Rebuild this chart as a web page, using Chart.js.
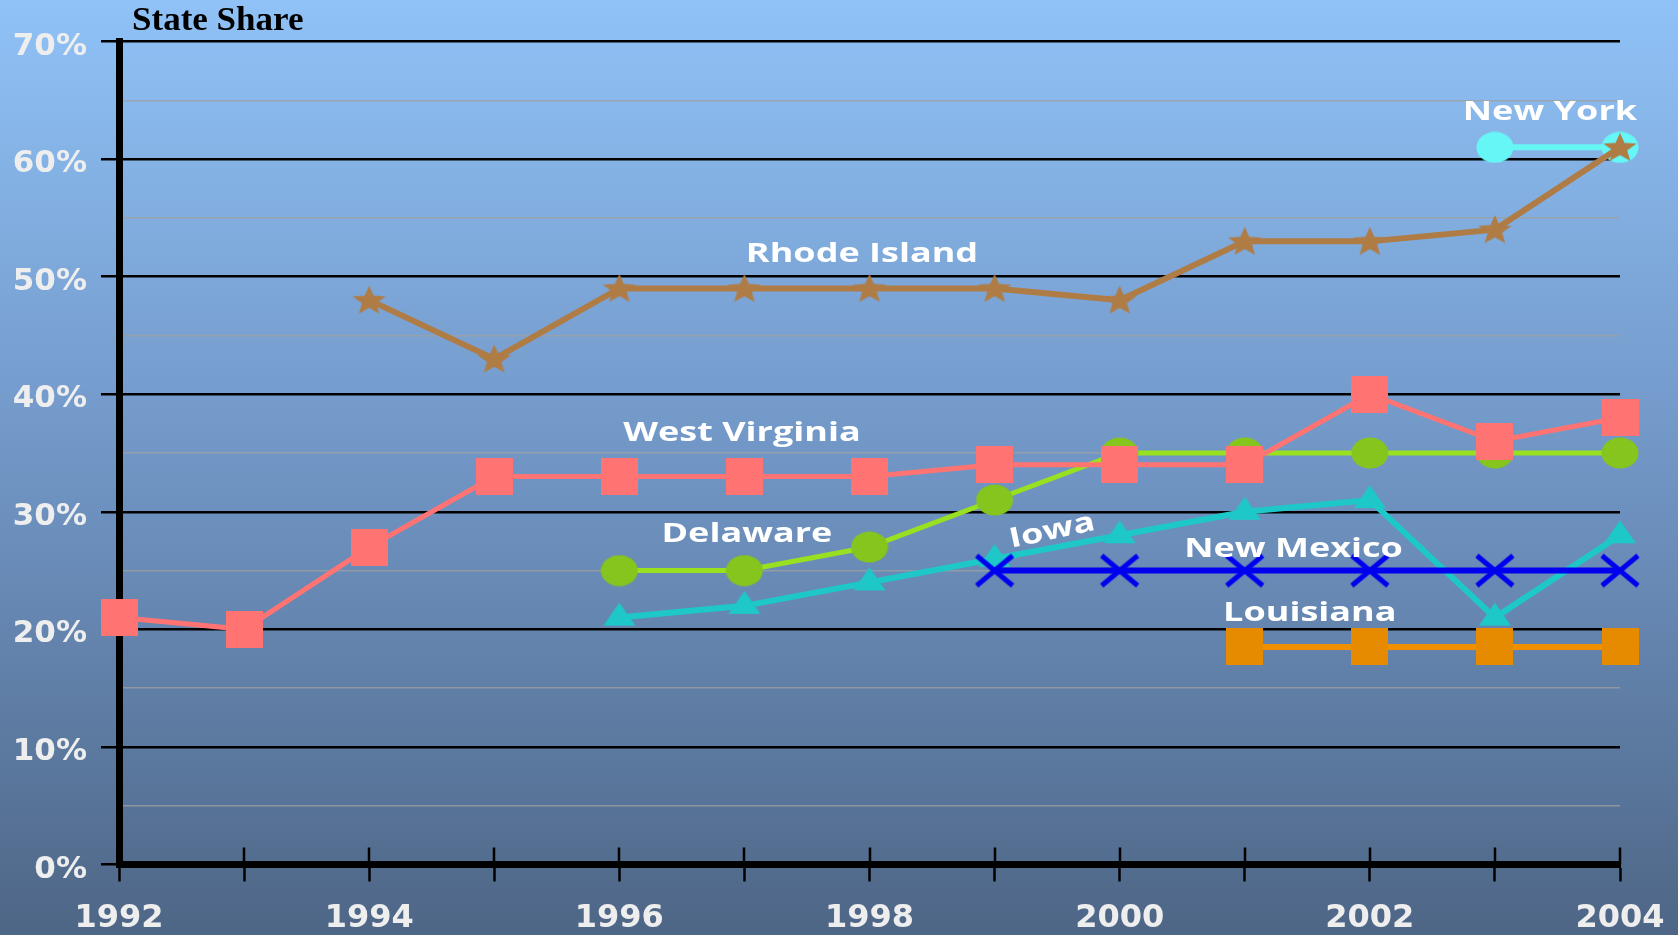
<!DOCTYPE html>
<html>
<head>
<meta charset="utf-8">
<title>State Share</title>
<script src="https://cdn.jsdelivr.net/npm/chart.js@4/dist/chart.umd.min.js"></script>
<style>
  html, body { margin: 0; padding: 0; background: #6f93c2; }
  #wrap { width: 1678px; height: 935px; }
</style>
</head>
<body>
<div id="wrap"><canvas id="chart" width="1678" height="935"></canvas></div>
<script>
// ---- data ----
const years = [1992, 1993, 1994, 1995, 1996, 1997, 1998, 1999, 2000, 2001, 2002, 2003, 2004];
const rhodeIsland  = [null, null, 48, 43, 49, 49, 49, 49, 48, 53, 53, 54, 61];
const newYork      = [null, null, null, null, null, null, null, null, null, null, null, 61, 61];
const westVirginia = [21, 20, 27, 33, 33, 33, 33, 34, 34, 34, 40, 36, 38];
const delaware     = [null, null, null, null, 25, 25, 27, 31, 35, 35, 35, 35, 35];
const iowa         = [null, null, null, null, 21, 22, 24, 26, 28, 30, 31, 21, 28];
const newMexico    = [null, null, null, null, null, null, null, 25, 25, 25, 25, 25, 25];
const louisiana    = [null, null, null, null, null, null, null, null, null, 18.5, 18.5, 18.5, 18.5];
const yTicks = [0, 10, 20, 30, 40, 50, 60, 70];
const xTickLabels = [1992, 1994, 1996, 1998, 2000, 2002, 2004];

// series name placement (year, percent, rotation in degrees)
const seriesLabels = [
  { text: 'New York',      x: 2003.44, y: 64.0, rot: 0 },
  { text: 'Rhode Island',  x: 1997.94, y: 51.9, rot: 0 },
  { text: 'West Virginia', x: 1996.98, y: 36.7, rot: 0 },
  { text: 'Delaware',      x: 1997.02, y: 28.1, rot: 0 },
  { text: 'Iowa',          x: 1999.46, y: 28.35, rot: -12 },
  { text: 'New Mexico',    x: 2001.39, y: 26.8, rot: 0 },
  { text: 'Louisiana',     x: 2001.52, y: 21.4, rot: 0 }
];

// ---- marker glyphs ----
function glyph(w, h, paint) {
  const c = document.createElement('canvas');
  c.width = w; c.height = h;
  paint(c.getContext('2d'), w, h);
  return c;
}
function ellipseMark(color) {
  return glyph(38, 32, (g) => {
    g.fillStyle = color; g.beginPath();
    g.ellipse(19, 16, 18.5, 15.5, 0, 0, Math.PI * 2); g.fill();
  });
}
function squareMark(color) {
  return glyph(37, 37, (g) => { g.fillStyle = color; g.fillRect(0, 0, 37, 37); });
}
function starMark(color) {
  return glyph(36, 36, (g) => {
    const cx = 18, cy = 19, ro = 17.5, ri = 7.6;
    g.fillStyle = color; g.beginPath();
    for (let i = 0; i < 10; i++) {
      const r = i % 2 === 0 ? ro : ri;
      const a = -Math.PI / 2 + i * Math.PI / 5;
      const px = cx + r * Math.cos(a), py = cy + r * Math.sin(a) * 0.88;
      if (i === 0) g.moveTo(px, py); else g.lineTo(px, py);
    }
    g.closePath(); g.fill();
  });
}
function triangleMark(color) {
  return glyph(34, 34, (g) => {
    g.fillStyle = color; g.beginPath();
    g.moveTo(17, 2); g.lineTo(33, 25); g.lineTo(1, 25); g.closePath(); g.fill();
  });
}
function crossMark(color) {
  return glyph(42, 36, (g) => {
    g.strokeStyle = color; g.lineWidth = 5; g.beginPath();
    g.moveTo(3, 3); g.lineTo(39, 33); g.moveTo(3, 33); g.lineTo(39, 3); g.stroke();
  });
}

function toPoints(values) {
  const pts = [];
  values.forEach((v, i) => { if (v !== null) pts.push({ x: years[i], y: v }); });
  return pts;
}

function series(label, values, lineColor, width, mark) {
  return {
    label: label,
    data: toPoints(values),
    borderColor: lineColor,
    borderWidth: width,
    backgroundColor: lineColor,
    pointStyle: mark,
    pointRadius: 12,
    pointHoverRadius: 12,
    tension: 0,
    clip: false,
    fill: false
  };
}

// ---- plugins ----
const backdrop = {
  id: 'backdrop',
  beforeDraw(chart) {
    const { ctx, width, height } = chart;
    const g = ctx.createLinearGradient(0, 0, 0, height);
    g.addColorStop(0, '#90c2f7');
    g.addColorStop(0.5, '#7095c4');
    g.addColorStop(1, '#4e6686');
    ctx.save(); ctx.fillStyle = g; ctx.fillRect(0, 0, width, height); ctx.restore();
  }
};

const crossTicks = {
  id: 'crossTicks',
  afterDraw(chart) {
    const xs = chart.scales.x, area = chart.chartArea, ctx = chart.ctx;
    ctx.save();
    ctx.strokeStyle = '#000'; ctx.lineWidth = 2.5;
    xs.ticks.forEach((t) => {
      const px = Math.round(xs.getPixelForValue(t.value));
      ctx.beginPath(); ctx.moveTo(px, area.bottom - 17); ctx.lineTo(px, area.bottom); ctx.stroke();
    });
    // axis heading
    ctx.fillStyle = '#000';
    ctx.font = 'bold 34px "Liberation Serif"';
    ctx.textAlign = 'left'; ctx.textBaseline = 'alphabetic';
    ctx.translate(area.left + 13, area.top - 12);
    ctx.scale(1.03, 1);
    ctx.fillText('State Share', 0, 0);
    ctx.restore();
  }
};

const nameLabels = {
  id: 'nameLabels',
  afterDatasetsDraw(chart) {
    const xs = chart.scales.x, ys = chart.scales.y, ctx = chart.ctx;
    ctx.save();
    ctx.fillStyle = '#ffffff';
    ctx.font = 'bold 27.5px "Open Sans"';
    ctx.textAlign = 'center'; ctx.textBaseline = 'middle';
    seriesLabels.forEach((l) => {
      ctx.save();
      ctx.translate(xs.getPixelForValue(l.x), ys.getPixelForValue(l.y));
      ctx.rotate(l.rot * Math.PI / 180);
      ctx.scale(1.31, 1);
      ctx.fillText(l.text, 0, 0);
      ctx.restore();
    });
    ctx.restore();
  }
};

new Chart(document.getElementById('chart'), {
  type: 'line',
  data: {
    datasets: [
      series('Rhode Island', rhodeIsland, '#b07c45', 6, starMark('#b07c45')),
      series('New York', newYork, '#66f6f6', 6, ellipseMark('#66f6f6')),
      series('New Mexico', newMexico, '#0000ee', 6, crossMark('#0000ee')),
      series('West Virginia', westVirginia, '#ff7373', 5, squareMark('#ff7373')),
      series('Delaware', delaware, '#98e020', 5, ellipseMark('#86c41e')),
      series('Iowa', iowa, '#1ec8c8', 6, triangleMark('#1ec8c8')),
      series('Louisiana', louisiana, '#f09000', 6, squareMark('#e68a00'))
    ]
  },
  options: {
    responsive: false,
    animation: false,
    events: [],
    layout: { padding: { top: 41.5, right: 58, left: 0, bottom: 0 } },
    plugins: { legend: { display: false }, tooltip: { enabled: false }, title: { display: false } },
    scales: {
      x: {
        type: 'linear',
        min: 1992, max: 2004,
        afterFit(s) { s.height = 70.5; s.paddingLeft = 0; s.paddingRight = 0; },
        afterBuildTicks(s) { s.ticks = years.map((v) => ({ value: v })); },
        ticks: {
          autoSkip: false, maxRotation: 0,
          color: '#eeeeee', font: { family: 'DejaVu Sans', weight: 'bold', size: 32 }, padding: 18,
          callback: (v) => (xTickLabels.includes(v) ? String(v) : '')
        },
        grid: { drawOnChartArea: false, drawTicks: true, tickLength: 17, tickColor: '#000', tickWidth: 2.5 },
        border: { display: true, color: '#000', width: 7 }
      },
      y: {
        type: 'linear',
        min: 0, max: 70,
        afterFit(s) { s.width = 119; s.paddingTop = 0; s.paddingBottom = 0; },
        afterBuildTicks(s) {
          const t = [];
          for (let v = 0; v <= 70; v += 5) t.push({ value: v });
          s.ticks = t;
        },
        ticks: {
          color: '#eeeeee', font: { family: 'DejaVu Sans', weight: 'bold', size: 31 }, padding: 14,
          labelOffset: 5,
          callback: (v) => (yTicks.includes(v) ? v + '%' : '')
        },
        grid: {
          color: (c) => (c.tick && c.tick.value % 10 === 0 ? '#000' : 'rgba(160,160,160,0.75)'),
          lineWidth: (c) => (c.tick && c.tick.value % 10 === 0 ? 2.5 : 1.5),
          tickLength: 18,
          tickColor: (c) => (c.tick && c.tick.value % 10 === 0 ? '#000' : 'rgba(0,0,0,0)')
        },
        border: { display: true, color: '#000', width: 7 }
      }
    }
  },
  plugins: [backdrop, crossTicks, nameLabels]
});
</script>
</body>
</html>
